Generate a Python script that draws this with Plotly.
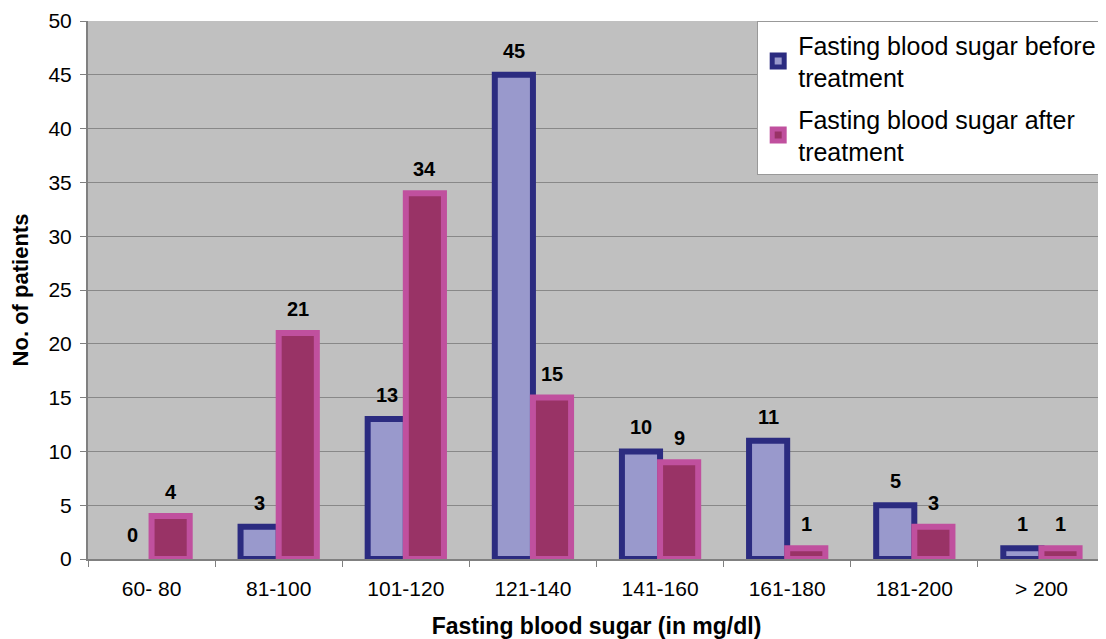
import plotly.graph_objects as go

categories = ["60- 80", "81-100", "101-120", "121-140", "141-160", "161-180", "181-200", "> 200"]
before = [0, 3, 13, 45, 10, 11, 5, 1]
after = [4, 21, 34, 15, 9, 1, 3, 1]
names = ["Fasting blood sugar before<br>treatment", "Fasting blood sugar after<br>treatment"]

FONT = "Liberation Sans, Arial, sans-serif"

fig = go.Figure()
fig.add_trace(go.Bar(x=categories, y=[v if v else None for v in before], name=names[0],
                     legendgroup="a",
                     marker=dict(color="#9999cc", line=dict(color="#2b2b80", width=6))))
fig.add_trace(go.Bar(x=categories, y=[v if v else None for v in after], name=names[1],
                     legendgroup="b",
                     marker=dict(color="#993366", line=dict(color="#c0509e", width=6))))

ann = []
for i, (b, a) in enumerate(zip(before, after)):
    for off, v in ((-0.15, b), (0.15, a)):
        ann.append(dict(x=i + off, y=v, xref="x", yref="y", text=f"<b>{v}</b>",
                        showarrow=False, yshift=24,
                        font=dict(size=20, color="black", family=FONT)))

fig.update_layout(
    width=1098, height=631,
    margin=dict(l=80, r=1, t=13, b=80),
    paper_bgcolor="white", plot_bgcolor="#c0c0c0",
    barmode="group", bargap=0.4, bargroupgap=0,
    font=dict(family=FONT, color="black", size=21),
    annotations=ann,
    legend=dict(x=0.658, xanchor="left", y=1.0, yanchor="top", bgcolor="white",
                bordercolor="#999999", borderwidth=1, font=dict(size=25),
                traceorder="grouped", itemwidth=30, tracegroupgap=6),
    xaxis=dict(title=dict(text="<b>Fasting blood sugar (in mg/dl)</b>", font=dict(size=23), standoff=24),
               tickson="boundaries", ticks="outside", ticklen=6, tickcolor="#808080",
               ticklabelstandoff=10, automargin=False,
               showline=True, linecolor="#808080", linewidth=2, tickfont=dict(size=21)),
    yaxis=dict(title=dict(text="<b>No. of patients</b>", font=dict(size=22), standoff=16),
               range=[0, 50], dtick=5, ticks="outside", ticklen=6, tickcolor="#808080",
               ticklabelstandoff=4, automargin=False,
               showline=True, linecolor="#808080", linewidth=2,
               showgrid=True, gridcolor="#888888", gridwidth=1, zeroline=False,
               tickfont=dict(size=21)),
)

fig.write_html("out.html")
